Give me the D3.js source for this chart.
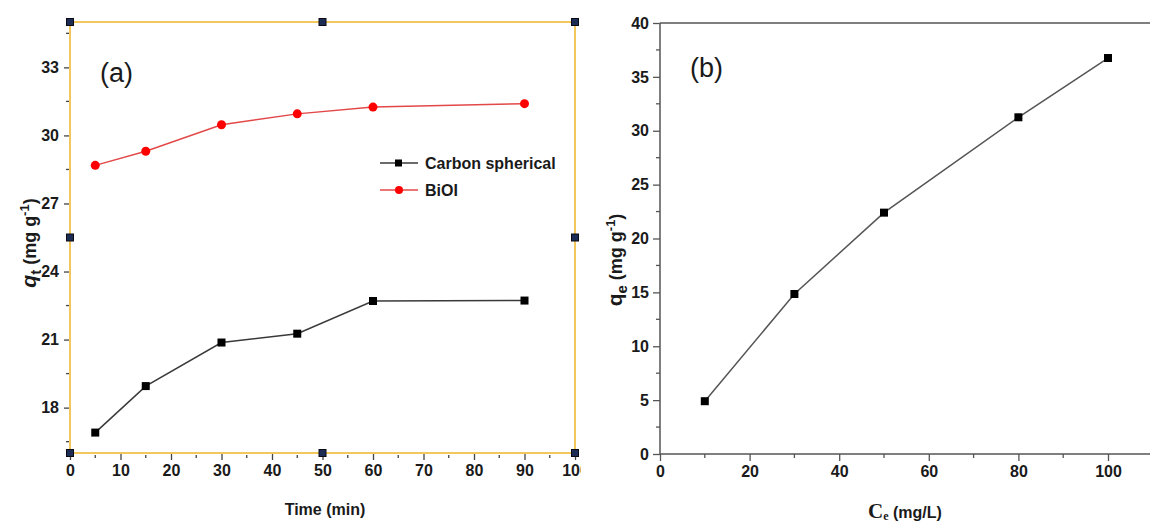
<!DOCTYPE html>
<html>
<head>
<meta charset="utf-8">
<script src="https://cdn.jsdelivr.net/npm/d3@7"></script>
<style>
  html, body { margin: 0; padding: 0; background: #fff; }
  svg { display: block; }
  svg .tick text { font-family: 'Liberation Sans', Arial, sans-serif !important; font-weight: 700 !important; font-size: 16px !important; }
</style>
</head>
<body>
<svg id="chart" width="1150" height="522"></svg>
<script>
// Panel (a): adsorption kinetics
const timeMin = [5, 15, 30, 45, 60, 90];
const qtCarbon = [16.9, 18.95, 20.87, 21.26, 22.7, 22.72];
const qtBiOI = [28.68, 29.3, 30.47, 30.95, 31.25, 31.4];
const seriesNames = ["Carbon spherical", "BiOI"];
const xTicksA = [0, 10, 20, 30, 40, 50, 60, 70, 80, 90, 100];
const yTicksA = [18, 21, 24, 27, 30, 33];

// Panel (b): equilibrium uptake
const ceValues = [10, 30, 50, 80, 100];
const qeValues = [4.9, 14.85, 22.4, 31.25, 36.75];
const xTicksB = [0, 20, 40, 60, 80, 100];
const yTicksB = [0, 5, 10, 15, 20, 25, 30, 35, 40];

const SANS = "'Liberation Sans', Arial, sans-serif";
const SERIF = "'Liberation Serif', 'Times New Roman', serif";

const svg = d3.select("#chart");

function styleTickText(g) {
  g.attr("font-family", SANS).attr("font-size", 16).attr("font-weight", "bold");
  g.selectAll(".tick text")
    .attr("font-weight", "bold")
    .attr("fill", "#1a1a1a");
}

function boldText(sel, size) {
  return sel.style("font-family", SANS).style("font-weight", "bold")
    .style("font-size", size + "px").attr("fill", "#1a1a1a");
}

// ---------- Panel (a) ----------
const xa = d3.scaleLinear().domain([0, 100]).range([70, 575]);
const ya = d3.scaleLinear().domain([16, 35]).range([453, 22]);

svg.append("defs").append("clipPath").attr("id", "clipA")
  .append("rect").attr("x", 0).attr("y", 0).attr("width", 581).attr("height", 522);

const gA = svg.append("g").attr("clip-path", "url(#clipA)");
const tickCol = "#444";

// minor ticks
const minorXA = d3.range(5, 100, 10);
const minorYA = d3.range(16.5, 35, 3);
gA.append("g").selectAll("line").data(minorXA).join("line")
  .attr("x1", d => xa(d)).attr("x2", d => xa(d))
  .attr("y1", 455).attr("y2", 458).attr("stroke", tickCol).attr("stroke-width", 1.3);
gA.append("g").selectAll("line").data(minorYA).join("line")
  .attr("y1", d => ya(d)).attr("y2", d => ya(d))
  .attr("x1", 66).attr("x2", 69).attr("stroke", tickCol).attr("stroke-width", 1.3);

// major ticks via d3 axes
const axA_x = d3.axisBottom(xa).tickValues(xTicksA).tickSize(7).tickPadding(5).tickFormat(d3.format("d"));
const axA_y = d3.axisLeft(ya).tickValues(yTicksA).tickSize(7).tickPadding(4).tickFormat(d3.format("d"));
const gxA = gA.append("g").attr("transform", "translate(0,453)").call(axA_x);
const gyA = gA.append("g").attr("transform", "translate(70,0)").call(axA_y);
[gxA, gyA].forEach(g => {
  g.select(".domain").remove();
  g.selectAll(".tick line").attr("stroke", tickCol).attr("stroke-width", 1.3);
  styleTickText(g);
});
gxA.selectAll(".tick line").attr("y1", 1);
gyA.selectAll(".tick line").attr("x1", -1).attr("x2", -6);

// gold frame
gA.append("rect").attr("x", xa(0)).attr("y", ya(35))
  .attr("width", xa(100) - xa(0)).attr("height", ya(16) - ya(35))
  .attr("fill", "none").attr("stroke", "#f2c75c").attr("stroke-width", 2);

// series lines
const lineA = (vals) => d3.line().x((d, i) => xa(timeMin[i])).y(d => ya(d))(vals);
gA.append("path").attr("d", lineA(qtCarbon)).attr("fill", "none").attr("stroke", "#3a3a3a").attr("stroke-width", 1.5);
gA.append("path").attr("d", lineA(qtBiOI)).attr("fill", "none").attr("stroke", "#e34848").attr("stroke-width", 1.5);

gA.append("g").selectAll("rect").data(qtCarbon).join("rect")
  .attr("x", (d, i) => xa(timeMin[i]) - 4).attr("y", d => ya(d) - 4)
  .attr("width", 8).attr("height", 8).attr("fill", "#000");
gA.append("g").selectAll("circle").data(qtBiOI).join("circle")
  .attr("cx", (d, i) => xa(timeMin[i])).attr("cy", d => ya(d))
  .attr("r", 4.5).attr("fill", "#f00");

// frame handles
const handles = [[0, 35], [50, 35], [100, 35], [0, 25.5], [100, 25.5], [0, 16], [50, 16], [100, 16]];
gA.append("g").selectAll("rect").data(handles).join("rect")
  .attr("x", d => xa(d[0]) - 3.5).attr("y", d => ya(d[1]) - 3.5)
  .attr("width", 7).attr("height", 7)
  .attr("fill", "#1c2c55").attr("stroke", "#0a0a14").attr("stroke-width", 1);

// legend
const legA = gA.append("g");
const legItems = [
  { name: seriesNames[0], col: "#3a3a3a", y: 163, shape: "sq" },
  { name: seriesNames[1], col: "#e34848", y: 190, shape: "ci" }
];
legItems.forEach(it => {
  legA.append("line").attr("x1", 380).attr("x2", 418).attr("y1", it.y).attr("y2", it.y)
    .attr("stroke", it.col).attr("stroke-width", 1.5);
  if (it.shape === "sq") {
    legA.append("rect").attr("x", 395).attr("y", it.y - 3.5).attr("width", 7).attr("height", 7).attr("fill", "#000");
  } else {
    legA.append("circle").attr("cx", 399).attr("cy", it.y).attr("r", 4).attr("fill", "#f00");
  }
  boldText(legA.append("text").attr("x", 425).attr("y", it.y + 6), 16).text(it.name);
});

gA.append("text").attr("x", 100).attr("y", 82)
  .style("font-family", SANS).style("font-size", "27px").attr("fill", "#1a1a1a").text("(a)");

boldText(gA.append("text").attr("x", 325).attr("y", 515).attr("text-anchor", "middle"), 16).text("Time (min)");

const ylabA = boldText(gA.append("text").attr("text-anchor", "middle")
  .attr("transform", "translate(36,243) rotate(-90)"), 18);
ylabA.append("tspan").style("font-style", "italic").style("font-size", "21px").text("q");
ylabA.append("tspan").attr("dy", 5).style("font-size", "15px").text("t");
ylabA.append("tspan").attr("dy", -5).text("  (mg g");
ylabA.append("tspan").attr("dy", -7).style("font-size", "13px").text("-1");
ylabA.append("tspan").attr("dy", 7).text(")");

// ---------- Panel (b) ----------
const xb = d3.scaleLinear().domain([0, 100]).range([660, 1108]);
const yb = d3.scaleLinear().domain([0, 40]).range([454, 23]);
const gB = svg.append("g");
const axisCol = "#555";

// axis lines (extend to the right edge)
gB.append("line").attr("x1", 660).attr("x2", 1150).attr("y1", yb(0)).attr("y2", yb(0)).attr("stroke", axisCol).attr("stroke-width", 1.5);
gB.append("line").attr("x1", 660).attr("x2", 1150).attr("y1", yb(40)).attr("y2", yb(40)).attr("stroke", axisCol).attr("stroke-width", 1.5);
gB.append("line").attr("x1", 660).attr("x2", 660).attr("y1", yb(0)).attr("y2", yb(40)).attr("stroke", axisCol).attr("stroke-width", 1.5);

const minorXB = d3.range(10, 101, 20);
const minorYB = d3.range(2.5, 40, 5);
gB.append("g").selectAll("line").data(minorXB).join("line")
  .attr("x1", d => xb(d)).attr("x2", d => xb(d))
  .attr("y1", 454).attr("y2", 458).attr("stroke", axisCol).attr("stroke-width", 1.3);
gB.append("g").selectAll("line").data(minorYB).join("line")
  .attr("y1", d => yb(d)).attr("y2", d => yb(d))
  .attr("x1", 656).attr("x2", 660).attr("stroke", axisCol).attr("stroke-width", 1.3);

const axB_x = d3.axisBottom(xb).tickValues(xTicksB).tickSize(7).tickPadding(5).tickFormat(d3.format("d"));
const axB_y = d3.axisLeft(yb).tickValues(yTicksB).tickSize(7).tickPadding(4).tickFormat(d3.format("d"));
const gxB = gB.append("g").attr("transform", "translate(0,454)").call(axB_x);
const gyB = gB.append("g").attr("transform", "translate(660,0)").call(axB_y);
[gxB, gyB].forEach(g => {
  g.select(".domain").remove();
  g.selectAll(".tick line").attr("stroke", axisCol).attr("stroke-width", 1.3);
  styleTickText(g);
});

gB.append("path")
  .attr("d", d3.line().x((d, i) => xb(ceValues[i])).y(d => yb(d))(qeValues))
  .attr("fill", "none").attr("stroke", "#555").attr("stroke-width", 1.5);
gB.append("g").selectAll("rect").data(qeValues).join("rect")
  .attr("x", (d, i) => xb(ceValues[i]) - 4).attr("y", d => yb(d) - 4)
  .attr("width", 8).attr("height", 8).attr("fill", "#000");

gB.append("text").attr("x", 690).attr("y", 77)
  .style("font-family", SANS).style("font-size", "27px").attr("fill", "#1a1a1a").text("(b)");

const xlabB = gB.append("text").attr("x", 868).attr("y", 518).attr("fill", "#1a1a1a");
xlabB.append("tspan").style("font-family", SERIF).style("font-weight", "bold").style("font-size", "21px").text("C");
xlabB.append("tspan").style("font-family", SERIF).style("font-weight", "bold").style("font-size", "12px").attr("dy", 2).text("e");
xlabB.append("tspan").style("font-family", SANS).style("font-weight", "bold").style("font-size", "16px").attr("dy", -2).text(" (mg/L)");

const ylabB = boldText(gB.append("text").attr("text-anchor", "middle")
  .attr("transform", "translate(622,260) rotate(-90)"), 18);
ylabB.append("tspan").style("font-size", "21px").text("q");
ylabB.append("tspan").attr("dy", 5).style("font-size", "15px").text("e");
ylabB.append("tspan").attr("dy", -5).text("  (mg g");
ylabB.append("tspan").attr("dy", -7).style("font-size", "13px").text("-1");
ylabB.append("tspan").attr("dy", 7).text(")");
</script>
</body>
</html>
